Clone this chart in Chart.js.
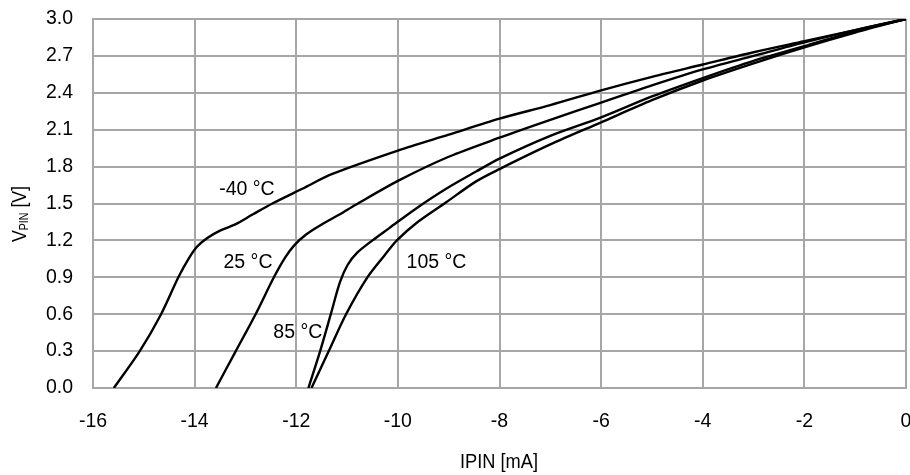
<!DOCTYPE html>
<html>
<head>
<meta charset="utf-8">
<script src="https://cdn.jsdelivr.net/npm/chart.js@4/dist/chart.umd.min.js"></script>
<style>
  html, body { margin: 0; padding: 0; background: #fff; }
  #wrap { width: 910px; height: 475px; }
</style>
</head>
<body>
<div id="wrap"><canvas id="chart" width="910" height="475"></canvas></div>
<script>
// curve data: current (mA) and voltage (V)
const xM40 = [-15.59, -15.08, -14.66, -14.32, -14.12, -13.95, -13.75, -13.50, -13.20, -12.86, -12.47, -11.88, -11.29, -10.0, -9.0, -8.0, -7.0, -6.0, -5.0, -4.0, -3.0, -2.0, -1.0, 0];
const yM40 = [0, 0.30, 0.60, 0.90, 1.05, 1.15, 1.22, 1.28, 1.33, 1.41, 1.50, 1.62, 1.74, 1.93, 2.06, 2.19, 2.30, 2.42, 2.53, 2.63, 2.73, 2.82, 2.91, 3.0];

const x25 = [-13.58, -13.19, -12.80, -12.44, -12.22, -12.04, -11.80, -11.50, -11.15, -10.83, -9.97, -9.0, -8.0, -7.0, -6.0, -5.0, -4.0, -3.0, -2.0, -1.0, 0];
const y25 = [0, 0.30, 0.60, 0.90, 1.06, 1.16, 1.25, 1.33, 1.41, 1.49, 1.69, 1.88, 2.035, 2.18, 2.32, 2.46, 2.59, 2.70, 2.81, 2.91, 3.0];

const x85 = [-11.76, -11.53, -11.32, -11.14, -10.99, -10.80, -10.50, -10.17, -9.64, -9.05, -8.46, -8.0, -7.0, -6.0, -5.0, -4.0, -3.0, -2.0, -1.0, 0];
const y85 = [0, 0.30, 0.60, 0.86, 1.00, 1.10, 1.20, 1.30, 1.46, 1.62, 1.76, 1.865, 2.05, 2.20, 2.37, 2.52, 2.66, 2.78, 2.90, 3.0];

const x105 = [-11.70, -11.36, -11.02, -10.60, -10.26, -10.02, -9.64, -9.05, -8.46, -8.0, -7.0, -6.0, -5.0, -4.0, -3.0, -2.0, -1.0, 0];
const y105 = [0, 0.30, 0.60, 0.90, 1.08, 1.20, 1.34, 1.51, 1.68, 1.78, 1.98, 2.16, 2.34, 2.50, 2.64, 2.77, 2.89, 3.0];

// curve labels, placed in data units
const labelText = ['-40 °C', '25 °C', '85 °C', '105 °C'];
const labelX = [-12.97, -12.95, -11.97, -9.24];
const labelY = [1.61, 1.02, 0.45, 1.02];

const xTicks = [-16, -14, -12, -10, -8, -6, -4, -2, 0];
const yTicks = [0, 0.3, 0.6, 0.9, 1.2, 1.5, 1.8, 2.1, 2.4, 2.7, 3.0];

const FONT = '"Liberation Sans", Arial, sans-serif';
const GRID = '#a6a6a6';

const pts = (xs, ys) => xs.map((x, i) => ({ x: x, y: ys[i] }));

const curve = (xs, ys) => ({
  data: pts(xs, ys),
  borderColor: '#000',
  borderWidth: 2.4,
  pointRadius: 0,
  showLine: true,
  fill: false,
  tension: 0.3
});

// text drawn squeezed to a given width (the source uses a condensed face)
function fitText(ctx, text, cx, cy, width) {
  const w = ctx.measureText(text).width;
  ctx.save();
  ctx.translate(cx, cy);
  ctx.scale(width / w, 1);
  ctx.textAlign = 'center';
  ctx.fillText(text, 0, 0);
  ctx.restore();
}

// draws the curve labels and both axis titles
const textPlugin = {
  id: 'texts',
  afterDatasetsDraw(chart) {
    const { ctx, scales: { x, y } } = chart;
    ctx.save();
    ctx.fillStyle = '#000';
    ctx.font = '19.5px ' + FONT;
    ctx.textAlign = 'center';
    ctx.textBaseline = 'middle';
    labelText.forEach((t, i) => {
      ctx.fillText(t, x.getPixelForValue(labelX[i]), y.getPixelForValue(labelY[i]));
    });

    // x axis title
    ctx.font = '21px ' + FONT;
    fitText(ctx, 'IPIN [mA]', 499, 462, 78);

    // y axis title, V with subscript PIN
    ctx.translate(20, 214);
    ctx.rotate(-Math.PI / 2);
    const big = '20px ' + FONT;
    const small = '12px ' + FONT;
    ctx.font = big;
    const wV = ctx.measureText('V').width;
    const wRest = ctx.measureText(' [V]').width;
    ctx.font = small;
    const wSub = ctx.measureText('PIN').width;
    const total = wV + wSub + wRest;
    ctx.scale(56 / total, 1);
    ctx.textAlign = 'left';
    let sx = -total / 2;
    ctx.font = big;
    ctx.fillText('V', sx, 0);
    sx += wV;
    ctx.font = small;
    ctx.fillText('PIN', sx, 5);
    sx += wSub;
    ctx.font = big;
    ctx.fillText(' [V]', sx, 0);
    ctx.restore();
  }
};

new Chart(document.getElementById('chart'), {
  type: 'scatter',
  data: {
    datasets: [
      curve(xM40, yM40),
      curve(x25, y25),
      curve(x85, y85),
      curve(x105, y105)
    ]
  },
  options: {
    responsive: false,
    animation: false,
    layout: { padding: { top: 19, right: 4, left: 0, bottom: 0 } },
    plugins: {
      legend: { display: false },
      tooltip: { enabled: false }
    },
    scales: {
      x: {
        type: 'linear',
        min: -16,
        max: 0,
        afterBuildTicks: (s) => { s.ticks = xTicks.map(v => ({ value: v })); },
        afterFit: (s) => { s.height = 87; s.paddingLeft = 0; s.paddingRight = 0; },
        grid: { color: GRID, lineWidth: 2, drawTicks: false },
        border: { color: GRID, width: 2 },
        ticks: {
          color: '#000',
          font: { family: FONT, size: 19.5 },
          padding: 22,
          maxRotation: 0
        }
      },
      y: {
        type: 'linear',
        min: 0,
        max: 3,
        afterBuildTicks: (s) => { s.ticks = yTicks.map(v => ({ value: v })); },
        afterFit: (s) => { s.width = 93; s.paddingTop = 0; s.paddingBottom = 0; },
        grid: { color: GRID, lineWidth: 2, drawTicks: false },
        border: { color: GRID, width: 2 },
        ticks: {
          color: '#000',
          font: { family: FONT, size: 19.5 },
          padding: 20,
          callback: (v) => Number(v).toFixed(1)
        }
      }
    }
  },
  plugins: [textPlugin]
});
</script>
</body>
</html>
